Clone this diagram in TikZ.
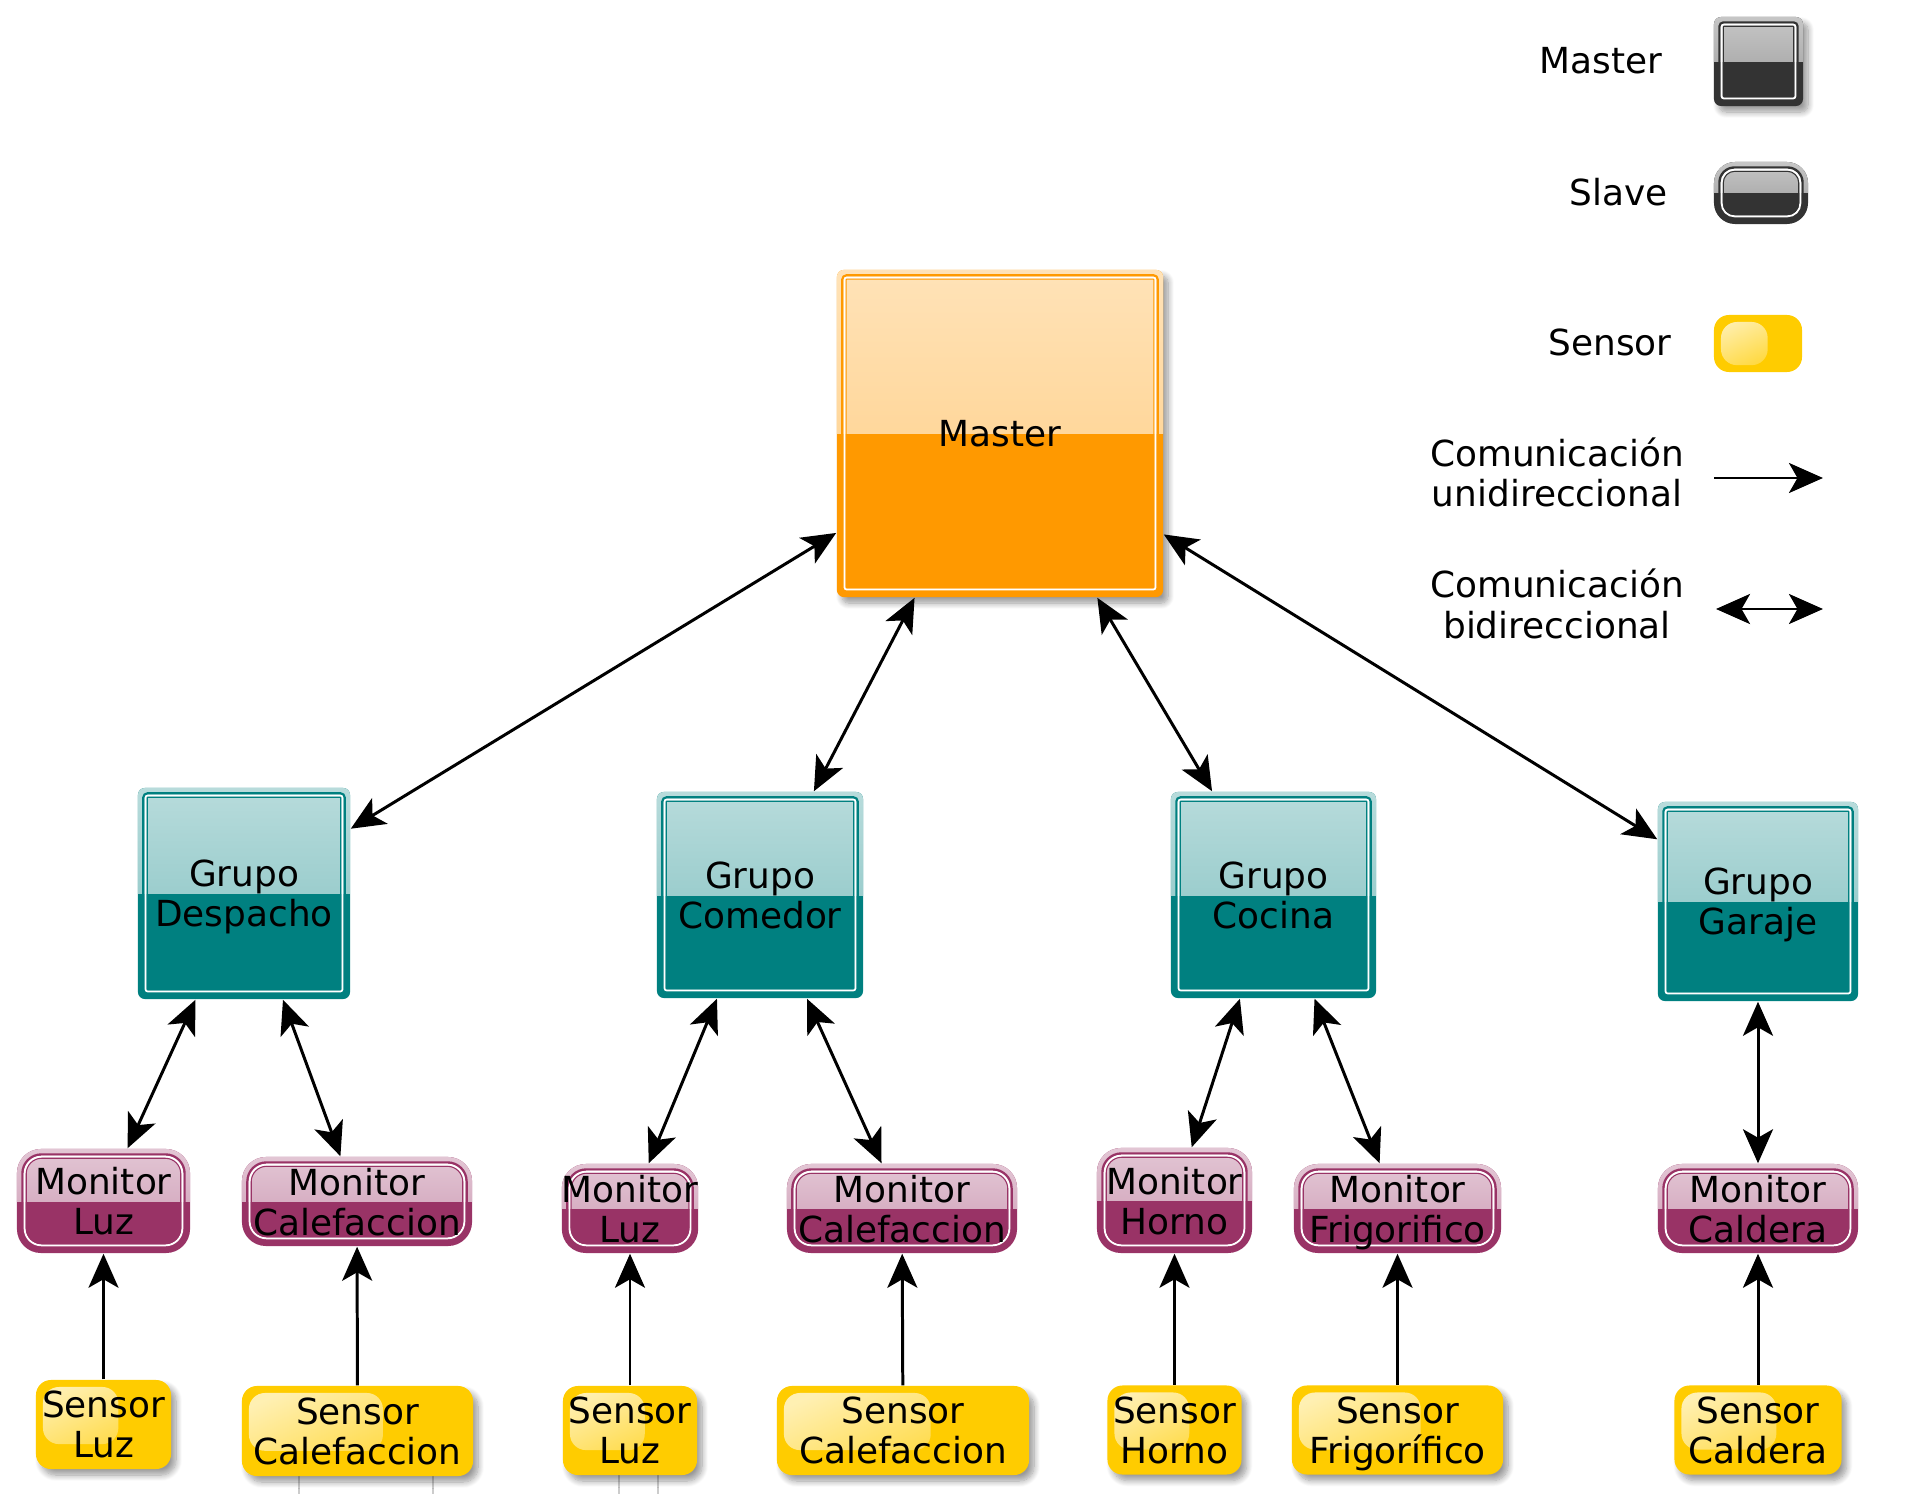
\documentclass[tikz,border=0pt]{standalone}
\usepackage{fontspec}
\setmainfont{DejaVu Sans}
\usetikzlibrary{arrows.meta,calc,shadows.blur}
\definecolor{cOrange}{HTML}{FF9900}
\definecolor{cTeal}{HTML}{008080}
\definecolor{cMag}{HTML}{993366}
\definecolor{cGrey}{HTML}{333333}
\definecolor{cYel}{HTML}{FFCC00}
\definecolor{cFaint}{HTML}{CCCCCC}
\tikzset{
  tipS/.tip={Stealth[length=0.34cm,width=0.30cm,inset=0.085cm]},
  bi/.style={line width=0.85pt, tipS-tipS},
  uni/.style={line width=0.85pt, -tipS},
  shadowed/.style={blur shadow={shadow xshift=0.05cm, shadow yshift=-0.06cm,
      shadow blur radius=0.06cm, shadow opacity=40, shadow blur steps=10}},
  glossy/.style n args={3}{
    fill=#1, rounded corners=#2*0.01cm, inner sep=0pt, align=center, text depth=0pt,
    path picture={
      \shade[sharp corners, top color=#1!28!white, bottom color=#1!50!white]
        (path picture bounding box.north west) rectangle (path picture bounding box.east);
      \draw[#1, line width=0.68pt, rounded corners=#3*0.01cm]
        ($(path picture bounding box.north west)+(5.5,5.5)$) rectangle
        ($(path picture bounding box.south east)+(-5.5,-5.5)$);
      \draw[white, line width=0.55pt, rounded corners=#3*0.01cm-2*0.01cm]
        ($(path picture bounding box.north west)+(7.7,7.7)$) rectangle
        ($(path picture bounding box.south east)+(-7.7,-7.7)$);
      \draw[#1, line width=0.3pt, rounded corners=#3*0.01cm-3.5*0.01cm]
        ($(path picture bounding box.north west)+(9.3,9.3)$) rectangle
        ($(path picture bounding box.south east)+(-9.3,-9.3)$);
    }},
  sensor/.default=0.72,
  sensor/.style={
    fill=cYel, rounded corners=0.15cm, inner sep=0pt, align=center, text depth=0pt,
    path picture={
      \shade[rounded corners=0.16cm, top color=cYel!30!white, bottom color=cYel!88!white, shading angle=25]
        ($(path picture bounding box.north west)+(7,7)$) rectangle
        ($(path picture bounding box.north west)!0.61!(path picture bounding box.north east)
          + #1*(path picture bounding box.south west) - #1*(path picture bounding box.north west)$);
    }},
}
\begin{document}
\begin{tikzpicture}[x=0.01cm, y=-0.01cm, font=\fontsize{10.2}{11.4}\selectfont]
\useasboundingbox (0,0) rectangle (1929,1494);

% faint lines below sensors
\draw[cFaint, line width=0.3pt] (299,1476) -- (299,1494);
\draw[cFaint, line width=0.3pt] (433,1476) -- (433,1494);
\draw[cFaint, line width=0.3pt] (619,1475) -- (619,1494);
\draw[cFaint, line width=0.3pt] (658,1475) -- (658,1494);

% legend
\node[anchor=base] (ltm) at (1601,74) {Master};
\node[glossy={cGrey}{7}{4}, shadowed, minimum width=0.89cm, minimum height=0.89cm] (lmst) at (1758.5,61.5) {};
\node[anchor=base] (lts) at (1618.5,206) {Slave};
\node[glossy={cGrey}{21}{15}, minimum width=0.94cm, minimum height=0.62cm] (lslv) at (1761,193) {};
\node[anchor=base] (ltse) at (1610,356) {Sensor};
\node[sensor=0.88, minimum width=0.88cm, minimum height=0.57cm] (lsen) at (1758,343.5) {};
\node[anchor=base, align=center] (ltu) at (1557,507) {Comunicación\\unidireccional};
\coordinate (ua1) at (1714,478);
\coordinate (ua2) at (1823,478);
\draw[uni] (ua1) -- (ua2);
\node[anchor=base, align=center] (ltb) at (1557,638) {Comunicación\\bidireccional};
\coordinate (ba1) at (1716,609);
\coordinate (ba2) at (1823,609);
\draw[bi] (ba1) -- (ba2);

% master
\node[glossy={cOrange}{7}{4}, shadowed, minimum width=3.26cm, minimum height=3.27cm] (mst) at (1000,433.5) {Master};

% groups
\node[glossy={cTeal}{7}{4}, minimum width=2.12cm, minimum height=2.11cm] (gdes) at (244,893.5) {Grupo\\Despacho};
\node[glossy={cTeal}{7}{4}, minimum width=2.06cm, minimum height=2.06cm] (gcom) at (760,895) {Grupo\\Comedor};
\node[glossy={cTeal}{7}{4}, minimum width=2.05cm, minimum height=2.06cm] (gcoc) at (1273.5,895) {Grupo\\Cocina};
\node[glossy={cTeal}{7}{4}, minimum width=2.00cm, minimum height=1.99cm] (ggar) at (1758,901.5) {Grupo\\Garaje};

% monitors
\node[glossy={cMag}{24}{19}, minimum width=1.73cm, minimum height=1.04cm] (mluz1) at (103.5,1201) {Monitor\\Luz};
\node[glossy={cMag}{24}{19}, minimum width=2.30cm, minimum height=0.89cm] (mcal1) at (357,1201.5) {Monitor\\Calefaccion};
\node[glossy={cMag}{24}{19}, minimum width=1.34cm, minimum height=0.89cm] (mluz2) at (630,1208.5) {Monitor\\Luz};
\node[glossy={cMag}{24}{19}, minimum width=2.30cm, minimum height=0.89cm] (mcal2) at (902,1208.5) {Monitor\\Calefaccion};
\node[glossy={cMag}{24}{19}, minimum width=1.55cm, minimum height=1.05cm] (mhor) at (1174.5,1200.5) {Monitor\\Horno};
\node[glossy={cMag}{24}{19}, minimum width=2.07cm, minimum height=0.89cm] (mfri) at (1397.5,1208.5) {Monitor\\Frigorifico};
\node[glossy={cMag}{24}{19}, minimum width=2.00cm, minimum height=0.89cm] (mcald) at (1758,1208.5) {Monitor\\Caldera};

% sensors
\node[sensor, shadowed, minimum width=1.35cm, minimum height=0.89cm] (sluz1) at (103.5,1424.5) {Sensor\\Luz};
\node[sensor, shadowed, minimum width=2.31cm, minimum height=0.90cm] (scal1) at (357.5,1431) {Sensor\\Calefaccion};
\node[sensor, shadowed, minimum width=1.34cm, minimum height=0.89cm] (sluz2) at (630,1430.5) {Sensor\\Luz};
\node[sensor, shadowed, minimum width=2.52cm, minimum height=0.89cm] (scal2) at (903,1430.5) {Sensor\\Calefaccion};
\node[sensor, shadowed, minimum width=1.34cm, minimum height=0.89cm] (shor) at (1174.5,1430) {Sensor\\Horno};
\node[sensor, shadowed, minimum width=2.11cm, minimum height=0.89cm] (sfri) at (1397.5,1430) {Sensor\\Frigorífico};
\node[sensor, shadowed, minimum width=1.67cm, minimum height=0.89cm] (scald) at (1758,1430) {Sensor\\Caldera};

% connectors
\draw[bi] (mst) -- (gdes);
\draw[bi] (mst) -- (gcom);
\draw[bi] (mst) -- (gcoc);
\draw[bi] (mst) -- (ggar);
\draw[bi] (gdes) -- (mluz1);
\draw[bi] (gdes) -- (mcal1);
\draw[bi] (gcom) -- (mluz2);
\draw[bi] (gcom) -- (mcal2);
\draw[bi] (gcoc) -- (mhor);
\draw[bi] (gcoc) -- (mfri);
\draw[bi] (ggar) -- (mcald);
\draw[uni] (sluz1) -- (mluz1);
\draw[uni] (scal1) -- (mcal1);
\draw[uni] (sluz2) -- (mluz2);
\draw[uni] (scal2) -- (mcal2);
\draw[uni] (shor) -- (mhor);
\draw[uni] (sfri) -- (mfri);
\draw[uni] (scald) -- (mcald);
\end{tikzpicture}
\end{document}
